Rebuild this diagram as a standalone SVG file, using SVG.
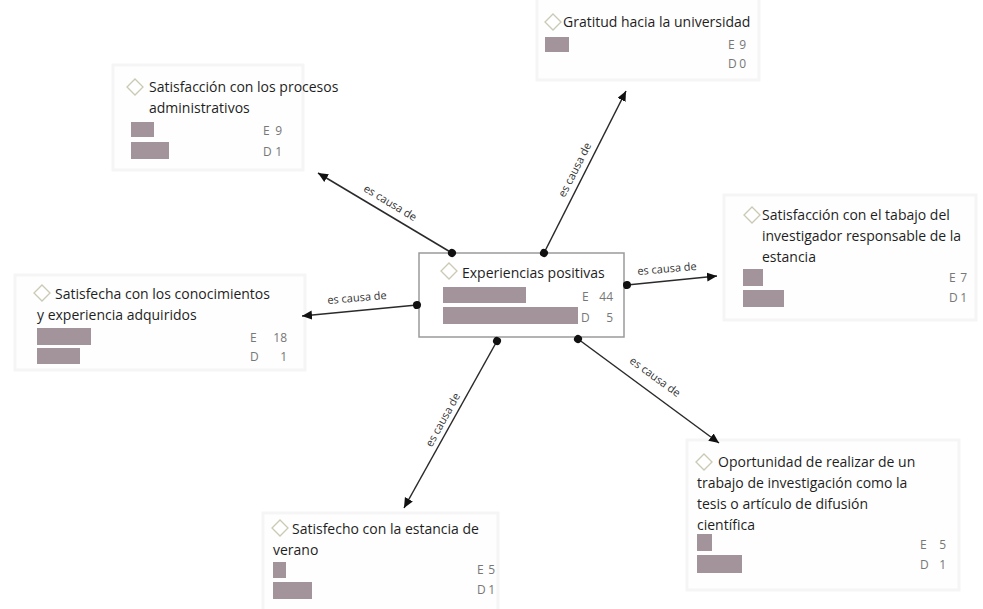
<svg xmlns="http://www.w3.org/2000/svg" width="983" height="609" viewBox="0 0 983 609">
<style>
.bg{fill:#ffffff}
.ghost{fill:#fefefe;stroke:#f5f5f5;stroke-width:3}
.box{fill:#ffffff;stroke:#9a9a9a;stroke-width:1.5}
.dia{fill:#ffffff;stroke:#c9c9b4;stroke-width:1.3}
.t{font-family:"Open Sans","Noto Sans",sans-serif;font-size:14px;fill:#1e1e1e}
.n{font-family:"Open Sans","Noto Sans",sans-serif;font-size:12px;fill:#777}
.bar{fill:#a3939a}
.lbl{font-family:"Open Sans","Noto Sans",sans-serif;font-size:11px;fill:#333;text-anchor:middle}
.ln{stroke:#2a2a2a;stroke-width:1.5;fill:none;marker-start:url(#dot);marker-end:url(#arr)}
</style>
<defs>
<marker id="arr" markerUnits="userSpaceOnUse" markerWidth="12" markerHeight="10" refX="10" refY="4.5" orient="auto"><path d="M0,0 L10,4.5 L0,9 Z" fill="#111"/></marker>
<marker id="dot" markerUnits="userSpaceOnUse" markerWidth="10" markerHeight="10" refX="5" refY="5" orient="auto"><circle cx="5" cy="5" r="4" fill="#111"/></marker>
<path id="d" d="M0,-8 L8,0 L0,8 L-8,0 Z"/>
</defs>
<rect class="bg" width="983" height="609"/>

<g id="n-gratitud">
<rect class="ghost" x="537" y="-5" width="222" height="85"/>
<use href="#d" class="dia" x="553" y="22"/>
<text class="t" x="563" y="27">Gratitud hacia la universidad</text>
<rect class="bar" x="545" y="37" width="24" height="15"/>
<text class="n" x="728" y="49">E</text><text class="n" x="746" y="49" text-anchor="end">9</text>
<text class="n" x="728" y="68">D</text><text class="n" x="746" y="68" text-anchor="end">0</text>
</g>

<g id="n-admin">
<rect class="ghost" x="113" y="65" width="190" height="105"/>
<use href="#d" class="dia" x="135" y="87"/>
<text class="t" x="149" y="92">Satisfacción con los procesos</text>
<text class="t" x="149" y="113">administrativos</text>
<rect class="bar" x="131" y="122" width="23" height="15"/>
<rect class="bar" x="131" y="142" width="38" height="17"/>
<text class="n" x="263" y="135">E</text><text class="n" x="282" y="135" text-anchor="end">9</text>
<text class="n" x="263" y="156">D</text><text class="n" x="282" y="156" text-anchor="end">1</text>
</g>

<g id="n-tabajo">
<rect class="ghost" x="724" y="195" width="252" height="125"/>
<use href="#d" class="dia" x="752" y="215"/>
<text class="t" x="762" y="220">Satisfacción con el tabajo del</text>
<text class="t" x="762" y="241">investigador responsable de la</text>
<text class="t" x="762" y="262">estancia</text>
<rect class="bar" x="743" y="269" width="20" height="17"/>
<rect class="bar" x="743" y="290" width="41" height="17"/>
<text class="n" x="949" y="282">E</text><text class="n" x="967" y="282" text-anchor="end">7</text>
<text class="n" x="949" y="302">D</text><text class="n" x="967" y="302" text-anchor="end">1</text>
</g>

<g id="n-conocimientos">
<rect class="ghost" x="15" y="275" width="290" height="95"/>
<use href="#d" class="dia" x="42" y="293"/>
<text class="t" x="55" y="299">Satisfecha con los conocimientos</text>
<text class="t" x="37" y="320">y experiencia adquiridos</text>
<rect class="bar" x="37" y="328" width="54" height="17"/>
<rect class="bar" x="37" y="348" width="43" height="16"/>
<text class="n" x="250" y="342">E</text><text class="n" x="287" y="342" text-anchor="end">18</text>
<text class="n" x="250" y="361">D</text><text class="n" x="287" y="361" text-anchor="end">1</text>
</g>

<g id="n-oportunidad">
<rect class="ghost" x="687" y="440" width="272" height="150"/>
<use href="#d" class="dia" x="704" y="462"/>
<text class="t" x="718" y="467">Oportunidad de realizar de un</text>
<text class="t" x="697" y="488">trabajo de investigación como la</text>
<text class="t" x="697" y="509">tesis o artículo de difusión</text>
<text class="t" x="697" y="530">científica</text>
<rect class="bar" x="697" y="534" width="15" height="17"/>
<rect class="bar" x="697" y="555" width="45" height="18"/>
<text class="n" x="920" y="549">E</text><text class="n" x="946" y="549" text-anchor="end">5</text>
<text class="n" x="920" y="569">D</text><text class="n" x="946" y="569" text-anchor="end">1</text>
</g>

<g id="n-verano">
<rect class="ghost" x="263" y="513" width="235" height="100"/>
<use href="#d" class="dia" x="280" y="528"/>
<text class="t" x="292" y="534">Satisfecho con la estancia de</text>
<text class="t" x="273" y="555">verano</text>
<rect class="bar" x="273" y="562" width="13" height="16"/>
<rect class="bar" x="273" y="582" width="39" height="17"/>
<text class="n" x="477" y="574">E</text><text class="n" x="495" y="574" text-anchor="end">5</text>
<text class="n" x="477" y="594">D</text><text class="n" x="495" y="594" text-anchor="end">1</text>
</g>

<g id="n-central">
<rect class="box" x="419" y="253" width="205" height="84"/>
<use href="#d" class="dia" x="449" y="271"/>
<text class="t" x="462" y="278">Experiencias positivas</text>
<rect class="bar" x="443" y="287" width="83" height="16"/>
<rect class="bar" x="443" y="307" width="135" height="17"/>
<text class="n" x="582" y="301">E</text><text class="n" x="613" y="301" text-anchor="end">44</text>
<text class="n" x="581" y="322">D</text><text class="n" x="613" y="322" text-anchor="end">5</text>
</g>

<g id="connectors">
<line class="ln" x1="452" y1="253" x2="318" y2="173"/>
<line class="ln" x1="544" y1="253" x2="626" y2="91"/>
<line class="ln" x1="627" y1="285" x2="717" y2="276"/>
<line class="ln" x1="417" y1="305" x2="302" y2="316"/>
<line class="ln" x1="497" y1="341" x2="404" y2="508"/>
<line class="ln" x1="578" y1="339" x2="719" y2="443"/>
<text class="lbl" transform="translate(390,203) rotate(31)" y="3.5">es causa de</text>
<text class="lbl" transform="translate(575,170) rotate(-63)" y="3.5">es causa de</text>
<text class="lbl" transform="translate(667,269) rotate(-5)" y="3.5">es causa de</text>
<text class="lbl" transform="translate(357,298) rotate(-5)" y="3.5">es causa de</text>
<text class="lbl" transform="translate(443,420) rotate(-61)" y="3.5">es causa de</text>
<text class="lbl" transform="translate(655,377) rotate(36)" y="3.5">es causa de</text>
</g>
</svg>
